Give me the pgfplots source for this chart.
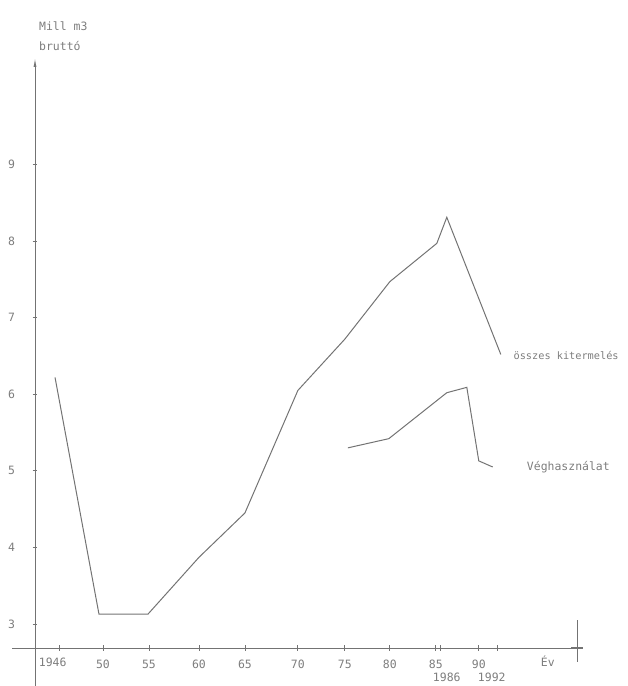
\documentclass[border=0pt]{standalone}
\usepackage{fontspec}
\setmonofont{DejaVu Sans Mono}
\usepackage{pgfplots}
\pgfplotsset{compat=1.18}
\usetikzlibrary{arrows.meta}
\definecolor{ink}{RGB}{115,115,115}
\definecolor{txt}{RGB}{125,125,125}

\pgfplotstableread{
x y
1945.0 6.22
1949.63 3.13
1954.80 3.13
1960.16 3.87
1965.01 4.45
1970.59 6.05
1975.54 6.72
1980.28 7.47
1985.23 7.97
1986.28 8.31
1991.97 6.52
}\osszes

\pgfplotstableread{
x y
1975.86 5.30
1980.17 5.42
1986.28 6.02
1988.39 6.09
1989.65 5.13
1991.12 5.05
}\vegh

\begin{document}
\begin{tikzpicture}[font=\ttfamily\fontsize{11.5}{13}\selectfont]
\useasboundingbox (-35bp,-38bp) rectangle (593bp,648bp);
\begin{axis}[at={(0,0)}, anchor=south west, scale only axis, width=542bp, height=590bp,
  xmin=1942.89, xmax=2000, ymin=2.687, ymax=10.39,
  axis lines=left, axis line style={draw=none},
  clip=false,
  tick align=center, major tick length=5bp,
  tick style={ink, line width=0.8bp},
  xtick={1945.42,1950.05,1954.90,1960.16,1965.01,1970.59,1975.54,1980.28,1985.13,1985.65,1989.65,1991.65},
  xticklabels={,50,55,60,65,70,75,80,85,,90,},
  ytick={3,4,5,6,7,8,9},
  yticklabels={3,4,5,6,7,8,9},
  tick label style={txt, font=\ttfamily\fontsize{11.5}{13}\selectfont},
  xticklabel style={yshift=-6bp},
  yticklabel style={xshift=-14bp},
]
\draw[ink, line width=0.9bp] (axis cs:1940.47,2.687) -- (axis cs:2000,2.687);
\draw[ink, line width=0.9bp, -{Latex[length=9bp,width=3bp]}] (axis cs:1942.89,2.184) -- (axis cs:1942.89,10.39);
\draw[ink, line width=0.9bp] (axis cs:2000,3.05) -- (axis cs:2000,2.50);
\draw[ink, line width=2.2bp] (axis cs:1999.4,2.687) -- (axis cs:2000.6,2.687);

\addplot[ink, line width=1bp] table {\osszes};
\addplot[ink, line width=1bp] table {\vegh};

\node[txt, anchor=west, inner sep=0pt] at (axis cs:1943.31,10.81) {Mill m3};
\node[txt, anchor=west, inner sep=0pt] at (axis cs:1943.31,10.55) {bruttó};
\node[txt, anchor=west, inner sep=0pt, font=\ttfamily\fontsize{10.3}{12}\selectfont] at (axis cs:1993.3,6.51) {összes kitermelés};
\node[txt, anchor=west, inner sep=0pt] at (axis cs:1994.71,5.05) {Véghasználat};
\node[txt, inner sep=0pt] at (axis cs:1996.92,2.51) {Év};
\node[txt, inner sep=0pt] at (axis cs:1944.75,2.50) {1946};
\node[txt, inner sep=0pt] at (axis cs:1986.28,2.31) {1986};
\node[txt, inner sep=0pt] at (axis cs:1991.02,2.31) {1992};
\end{axis}
\end{tikzpicture}
\end{document}
